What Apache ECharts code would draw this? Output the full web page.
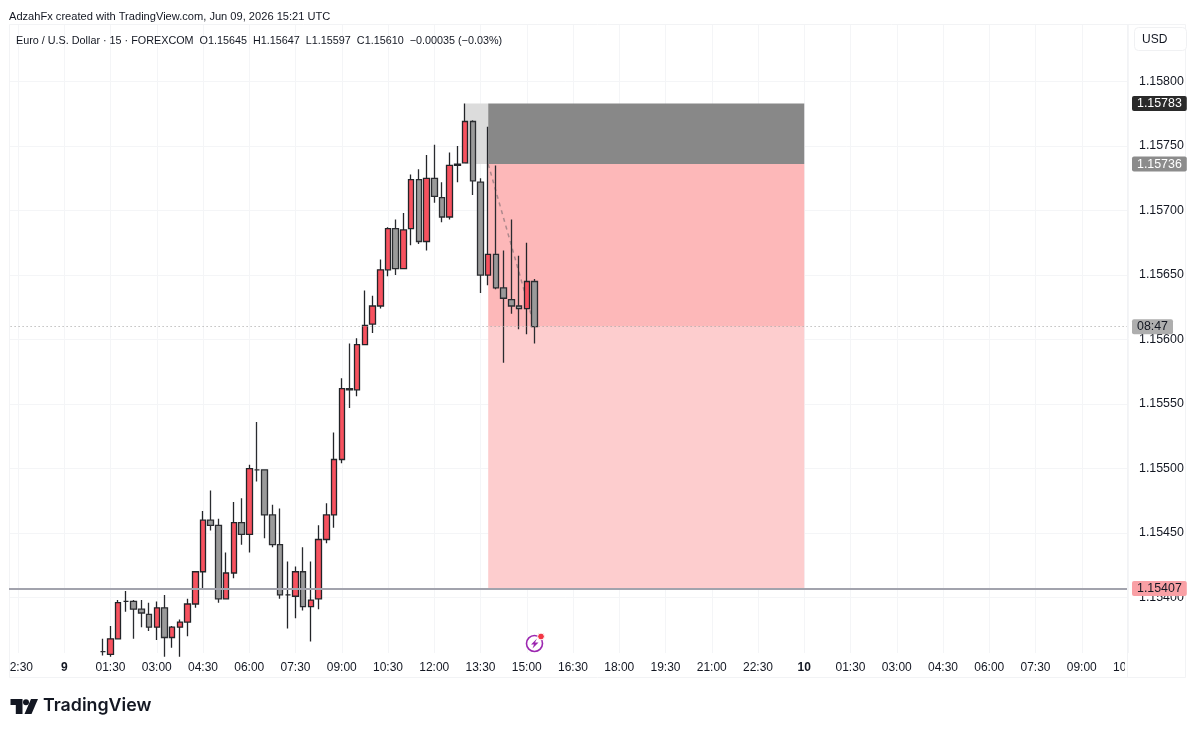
<!DOCTYPE html>
<html><head><meta charset="utf-8">
<style>html,body{margin:0;padding:0;background:#fff}#c{width:1200px;height:732px}</style>
<script src="https://cdn.jsdelivr.net/npm/echarts@6/dist/echarts.min.js"></script>
</head><body><div id="c"></div>
<script>
const tickLabels=["22:30","9","01:30","03:00","04:30","06:00","07:30","09:00","10:30","12:00","13:30","15:00","16:30","18:00","19:30","21:00","22:30","10","01:30","03:00","04:30","06:00","07:30","09:00","10:30"];
const priceTicks=[1.154,1.1545,1.155,1.1555,1.156,1.1565,1.157,1.1575,1.158];
const firstCandleSlot=13;
const opens=[1.15358,1.15356,1.15368,1.15397,1.15397,1.15391,1.15387,1.15377,1.15392,1.15369,1.15377,1.15381,1.15395,1.1542,1.1546,1.15456,1.15399,1.15419,1.15458,1.15449,1.15499,1.15499,1.15464,1.15441,1.15402,1.15401,1.1542,1.15393,1.15399,1.15445,1.15464,1.15507,1.15562,1.15561,1.15596,1.15612,1.15626,1.15654,1.15686,1.15655,1.15686,1.15724,1.15676,1.15725,1.1571,1.15695,1.15735,1.15737,1.15769,1.15722,1.1565,1.15666,1.1564,1.15631,1.15626,1.15624,1.15645];
const closes=[1.15358,1.15368,1.15396,1.15397,1.15391,1.15388,1.15377,1.15392,1.15369,1.15377,1.15381,1.15395,1.1542,1.1546,1.15456,1.15399,1.15419,1.15458,1.15449,1.155,1.15499,1.15464,1.15441,1.15402,1.15402,1.1542,1.15393,1.15398,1.15445,1.15464,1.15507,1.15562,1.15561,1.15596,1.15611,1.15626,1.15654,1.15686,1.15655,1.15685,1.15724,1.15676,1.15725,1.15711,1.15695,1.15735,1.15736,1.15769,1.15723,1.1565,1.15666,1.1564,1.15632,1.15626,1.15624,1.15645,1.1561];
const lows=[1.15355,1.15354,1.15368,1.15389,1.15368,1.15377,1.15374,1.15367,1.15354,1.15361,1.15354,1.1537,1.15392,1.15407,1.15452,1.15396,1.15399,1.15415,1.15441,1.15435,1.1549,1.15446,1.15439,1.15399,1.15376,1.15384,1.1539,1.15366,1.15391,1.15442,1.15454,1.15504,1.15547,1.15556,1.15596,1.15605,1.15624,1.15649,1.1565,1.15655,1.15673,1.15674,1.15669,1.15706,1.15691,1.15693,1.15722,1.15737,1.15712,1.15636,1.15642,1.15639,1.15582,1.1562,1.15608,1.15604,1.15597];
const highs=[1.15368,1.15378,1.15398,1.15405,1.15398,1.15398,1.15396,1.15397,1.15402,1.15378,1.15383,1.15399,1.1542,1.15467,1.15483,1.15461,1.15435,1.15474,1.15477,1.15503,1.15536,1.15499,1.15472,1.15469,1.15428,1.15424,1.15439,1.15428,1.15456,1.15473,1.15528,1.1557,1.15597,1.15601,1.15638,1.15634,1.15662,1.15687,1.15693,1.15698,1.15728,1.15732,1.15743,1.15751,1.15722,1.15745,1.1575,1.15783,1.1577,1.15725,1.15765,1.15735,1.15669,1.15693,1.15665,1.15675,1.15647];
const stopPrice=1.15783, entryPrice=1.15736, targetPrice=1.15407, lastPrice=1.1561;
const boxStartSlot=60, boxEntrySlot=63, boxEndSlot=104, lastSlot=69;
const slotCount=147, tickEvery=6, tickPhase=2;

const categories=[];
for(let k=0;k<slotCount;k++){
  categories.push((k%tickEvery===tickPhase)?tickLabels[(k-tickPhase)/tickEvery]:'');
}
const candleData=categories.map((_,k)=>{
  const n=k-firstCandleSlot;
  return (n>=0&&n<opens.length)?[opens[n],closes[n],lows[n],highs[n]]:['-','-','-','-'];
});
const isTick=(idx)=>idx%tickEvery===tickPhase;
const FONT='"Liberation Sans",Arial,sans-serif';
const INK='#131722';
function tag(text,bg,fg,left){
  return {show:true,position:'end',distance:left,formatter:text,backgroundColor:bg,color:fg,fontFamily:FONT,fontSize:12.4,padding:[2,5,1,5],borderRadius:2};
}
function level(price,lineStyle,label){
  return [{xAxis:0,yAxis:price,lineStyle,label},{xAxis:slotCount-1,yAxis:price}];
}
const chart=echarts.init(document.getElementById('c'),null,{renderer:'canvas'});
chart.setOption({
  animation:false,
  backgroundColor:'#ffffff',
  grid:{left:2.32,right:72,top:24,bottom:79,containLabel:false},
  xAxis:{type:'category',data:categories,boundaryGap:false,
    axisLine:{show:false},axisTick:{show:false,interval:isTick},
    splitLine:{show:true,interval:isTick,lineStyle:{color:'#f4f5f7',width:1}},
    axisLabel:{interval:isTick,margin:8.5,color:INK,fontFamily:FONT,fontSize:12,hideOverlap:false,
      formatter:(v)=>(v==='9'||v==='10')?'{b|'+v+'}':v,
      rich:{b:{fontWeight:'bold',fontSize:12,color:INK,fontFamily:FONT}}}},
  yAxis:{type:'value',position:'right',scale:true,min:1.15357,max:1.158446,
    axisLine:{show:false},
    axisTick:{show:false,customValues:priceTicks},
    splitLine:{show:true,lineStyle:{color:'#f4f5f7',width:1}},
    axisLabel:{customValues:priceTicks,margin:11,color:INK,fontFamily:FONT,fontSize:12.4,formatter:(v)=>v.toFixed(5)}},
  series:[
    {type:'line',name:'zones',z:1,data:[],silent:true,
     markArea:{silent:true,animation:false,data:[
       [{xAxis:boxStartSlot,yAxis:stopPrice,itemStyle:{color:'#dcdcdc',borderWidth:0}},{xAxis:boxEntrySlot,yAxis:entryPrice}],
       [{xAxis:boxEntrySlot,yAxis:stopPrice,itemStyle:{color:'#888888',borderWidth:0}},{xAxis:boxEndSlot,yAxis:entryPrice}],
       [{xAxis:boxEntrySlot,yAxis:entryPrice,itemStyle:{color:'#fdb8b9',borderWidth:0}},{xAxis:boxEndSlot,yAxis:lastPrice}],
       [{xAxis:boxEntrySlot,yAxis:lastPrice,itemStyle:{color:'#fdcdce',borderWidth:0}},{xAxis:boxEndSlot,yAxis:targetPrice}]
     ]}},
    {type:'line',name:'path',z:2,symbol:'none',silent:true,
     data:[[boxEntrySlot,entryPrice],[lastSlot,lastPrice]],
     lineStyle:{color:'rgba(130,110,115,0.65)',width:1.5,type:[4,4]},
     markLine:{symbol:['none','none'],silent:true,animation:false,data:[
       level(targetPrice,{color:'#a2a3ad',width:2,type:'solid'},tag('1.15407','#f9a0a5','#131722',4)),
       level(lastPrice,{color:'#a0a0a0',width:1,type:[1,3]},tag('08:47','#aeaeae','#131722',4)),
       level(entryPrice,{color:'transparent',width:0},tag('1.15736','#8c8c8c','#ffffff',4)),
       level(stopPrice,{color:'transparent',width:0},tag('1.15783','#2a2a2a','#ffffff',4))
     ]}},
    {type:'candlestick',name:'EURUSD',z:3,data:candleData,barWidth:6,silent:true,
     itemStyle:{color:'#f7525f',color0:'#9a9a9a',borderColor:'#222428',borderColor0:'#2a2c30',borderWidth:1.3}}
  ],
  graphic:{elements:[
    {type:'rect',z:1,shape:{x:9.5,y:24.5,width:1176,height:653},style:{fill:'none',stroke:'#f2f3f5',lineWidth:1}},
    {type:'rect',z:50,shape:{x:0,y:25,width:9,height:655},style:{fill:'#fff'}},
    {type:'rect',z:50,shape:{x:1125,y:655,width:30,height:22},style:{fill:'#fff'}},
    {type:'line',z:51,shape:{x1:1127.5,y1:24,x2:1127.5,y2:678},style:{stroke:'#f2f3f5',lineWidth:1}},
    {type:'text',z:60,style:{x:9,y:11,text:'AdzahFx created with TradingView.com, Jun 09, 2026 15:21 UTC',fill:INK,font:'11.1px '+FONT}},
    {type:'text',z:60,style:{x:16,y:35.5,text:'Euro / U.S. Dollar · 15 · FOREXCOM  O1.15645  H1.15647  L1.15597  C1.15610  −0.00035 (−0.03%)',fill:INK,font:'10.8px '+FONT}},
    {type:'rect',z:60,shape:{x:1134.5,y:27.5,width:52,height:23,r:4},style:{fill:'#fff',stroke:'#f0f1f3',lineWidth:1}},
    {type:'text',z:61,style:{x:1142,y:34,text:'USD',fill:INK,font:'12px '+FONT}},
    {type:'polygon',z:60,shape:{points:[[10.5,699],[22.5,699],[22.5,714],[15.8,714],[15.8,705],[10.5,705]]},style:{fill:'#131722'}},
    {type:'polygon',z:60,shape:{points:[[31,699],[38,699],[31.5,714],[24.5,714]]},style:{fill:'#131722'}},
    {type:'circle',z:60,shape:{cx:26,cy:702.2,r:3},style:{fill:'#131722'}},
    {type:'text',z:60,style:{x:43,y:696.5,text:'TradingView',fill:'#131722',font:'600 17.8px Inter, '+FONT}},
    {type:'circle',z:60,shape:{cx:534.5,cy:643.5,r:8},style:{fill:'#fff',stroke:'#9c27b0',lineWidth:1.6}},
    {type:'polygon',z:61,shape:{points:[[537,638.5],[531,644.5],[534,644.5],[532.5,648.5],[538.5,642.5],[535,642.5]]},style:{fill:'#9c27b0'}},
    {type:'circle',z:62,shape:{cx:541,cy:636.5,r:3.4},style:{fill:'#f23645',stroke:'#fff',lineWidth:1}}
  ]}
});
</script></body></html>
